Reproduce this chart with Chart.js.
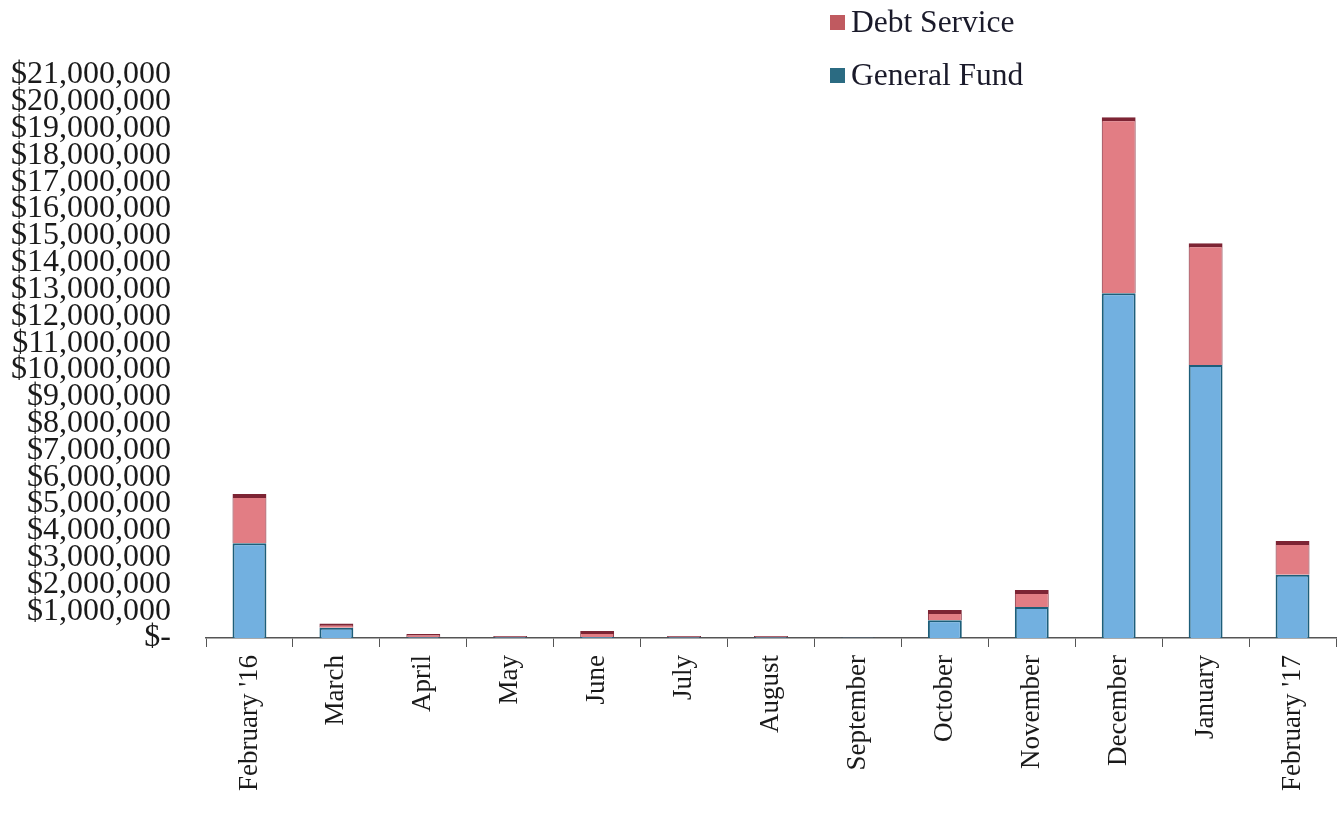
<!DOCTYPE html>
<html>
<head>
<meta charset="utf-8">
<script src="https://cdn.jsdelivr.net/npm/chart.js@4/dist/chart.umd.min.js"></script>
<style>
  html, body { margin: 0; padding: 0; background: #fff; }
  #wrap { position: relative; width: 1340px; height: 821px; }
  #legend { position: absolute; left: 830px; top: 2px; font-family: "Liberation Serif", "Times New Roman", serif; font-size: 31.5px; color: #1a1a2a; }
  #legend div { display: flex; align-items: center; height: 40px; margin-bottom: 13px; }
  #legend span.sw { display: inline-block; width: 15px; height: 15px; margin-right: 6px; }
</style>
</head>
<body>
<div id="wrap">
  <canvas id="c" width="1340" height="821"></canvas>
  <div id="legend"></div>
</div>
<script>
// Monthly collections by fund
const months = ["February '16", "March", "April", "May", "June", "July", "August",
  "September", "October", "November", "December", "January", "February '17"];
const generalFund = [3530000, 380000, 30000, 30000, 40000, 30000, 30000, 15000,
  660000, 1160000, 12860000, 10180000, 2360000];
const debtService = [1840000, 160000, 120000, 40000, 220000, 40000, 40000, 15000,
  380000, 630000, 6560000, 4540000, 1260000];
const yTicks = { min: 0, max: 21000000, step: 1000000 };

const serif = "'Liberation Serif', 'Times New Roman', serif";

const datasets = [
  {
    label: 'General Fund',
    data: generalFund,
    backgroundColor: '#72b0e0',
    borderColor: '#1d5e7a',
    borderWidth: { top: 2, left: 2, right: 2, bottom: 0 },
    borderSkipped: false,
    legendColor: '#2b6b82'
  },
  {
    label: 'Debt Service',
    data: debtService,
    backgroundColor: '#e27d84',
    borderColor: '#7d2434',
    borderWidth: { top: 4, left: 1, right: 1, bottom: 0 },
    borderSkipped: false,
    legendColor: '#c05a60'
  }
];

const chart = new Chart(document.getElementById('c'), {
  type: 'bar',
  data: { labels: months, datasets: datasets },
  options: {
    responsive: false,
    animation: false,
    layout: { padding: { top: 75, right: 4, left: 0, bottom: 0 } },
    plugins: { legend: { display: false }, tooltip: { enabled: false } },
    datasets: { bar: { barPercentage: 0.39, categoryPercentage: 1.0 } },
    scales: {
      x: {
        stacked: true,
        offset: true,
        afterFit: s => { s.height = 183; },
        grid: { display: true, drawOnChartArea: false, drawTicks: true, tickLength: 9, color: '#555', offset: true },
        border: { display: true, color: '#555', width: 1.5 },
        ticks: { minRotation: 90, maxRotation: 90, autoSkip: false, padding: 8,
          color: '#1a1a1a', font: { family: serif, size: 27 } }
      },
      y: {
        stacked: true,
        min: yTicks.min,
        max: yTicks.max,
        afterFit: s => { s.width = 206; },
        grid: { display: false },
        border: { display: false },
        ticks: {
          stepSize: yTicks.step,
          autoSkip: false,
          padding: 27,
          color: '#1a1a1a',
          font: { family: serif, size: 32 },
          callback: v => v === 0 ? '$-' : '$' + v.toLocaleString('en-US')
        }
      }
    }
  }
});

// Legend: Debt Service listed above General Fund
const legend = document.getElementById('legend');
[...datasets].reverse().forEach(ds => {
  const row = document.createElement('div');
  const sw = document.createElement('span');
  sw.className = 'sw';
  sw.style.background = ds.legendColor;
  row.appendChild(sw);
  row.appendChild(document.createTextNode(ds.label));
  legend.appendChild(row);
});
</script>
</body>
</html>
